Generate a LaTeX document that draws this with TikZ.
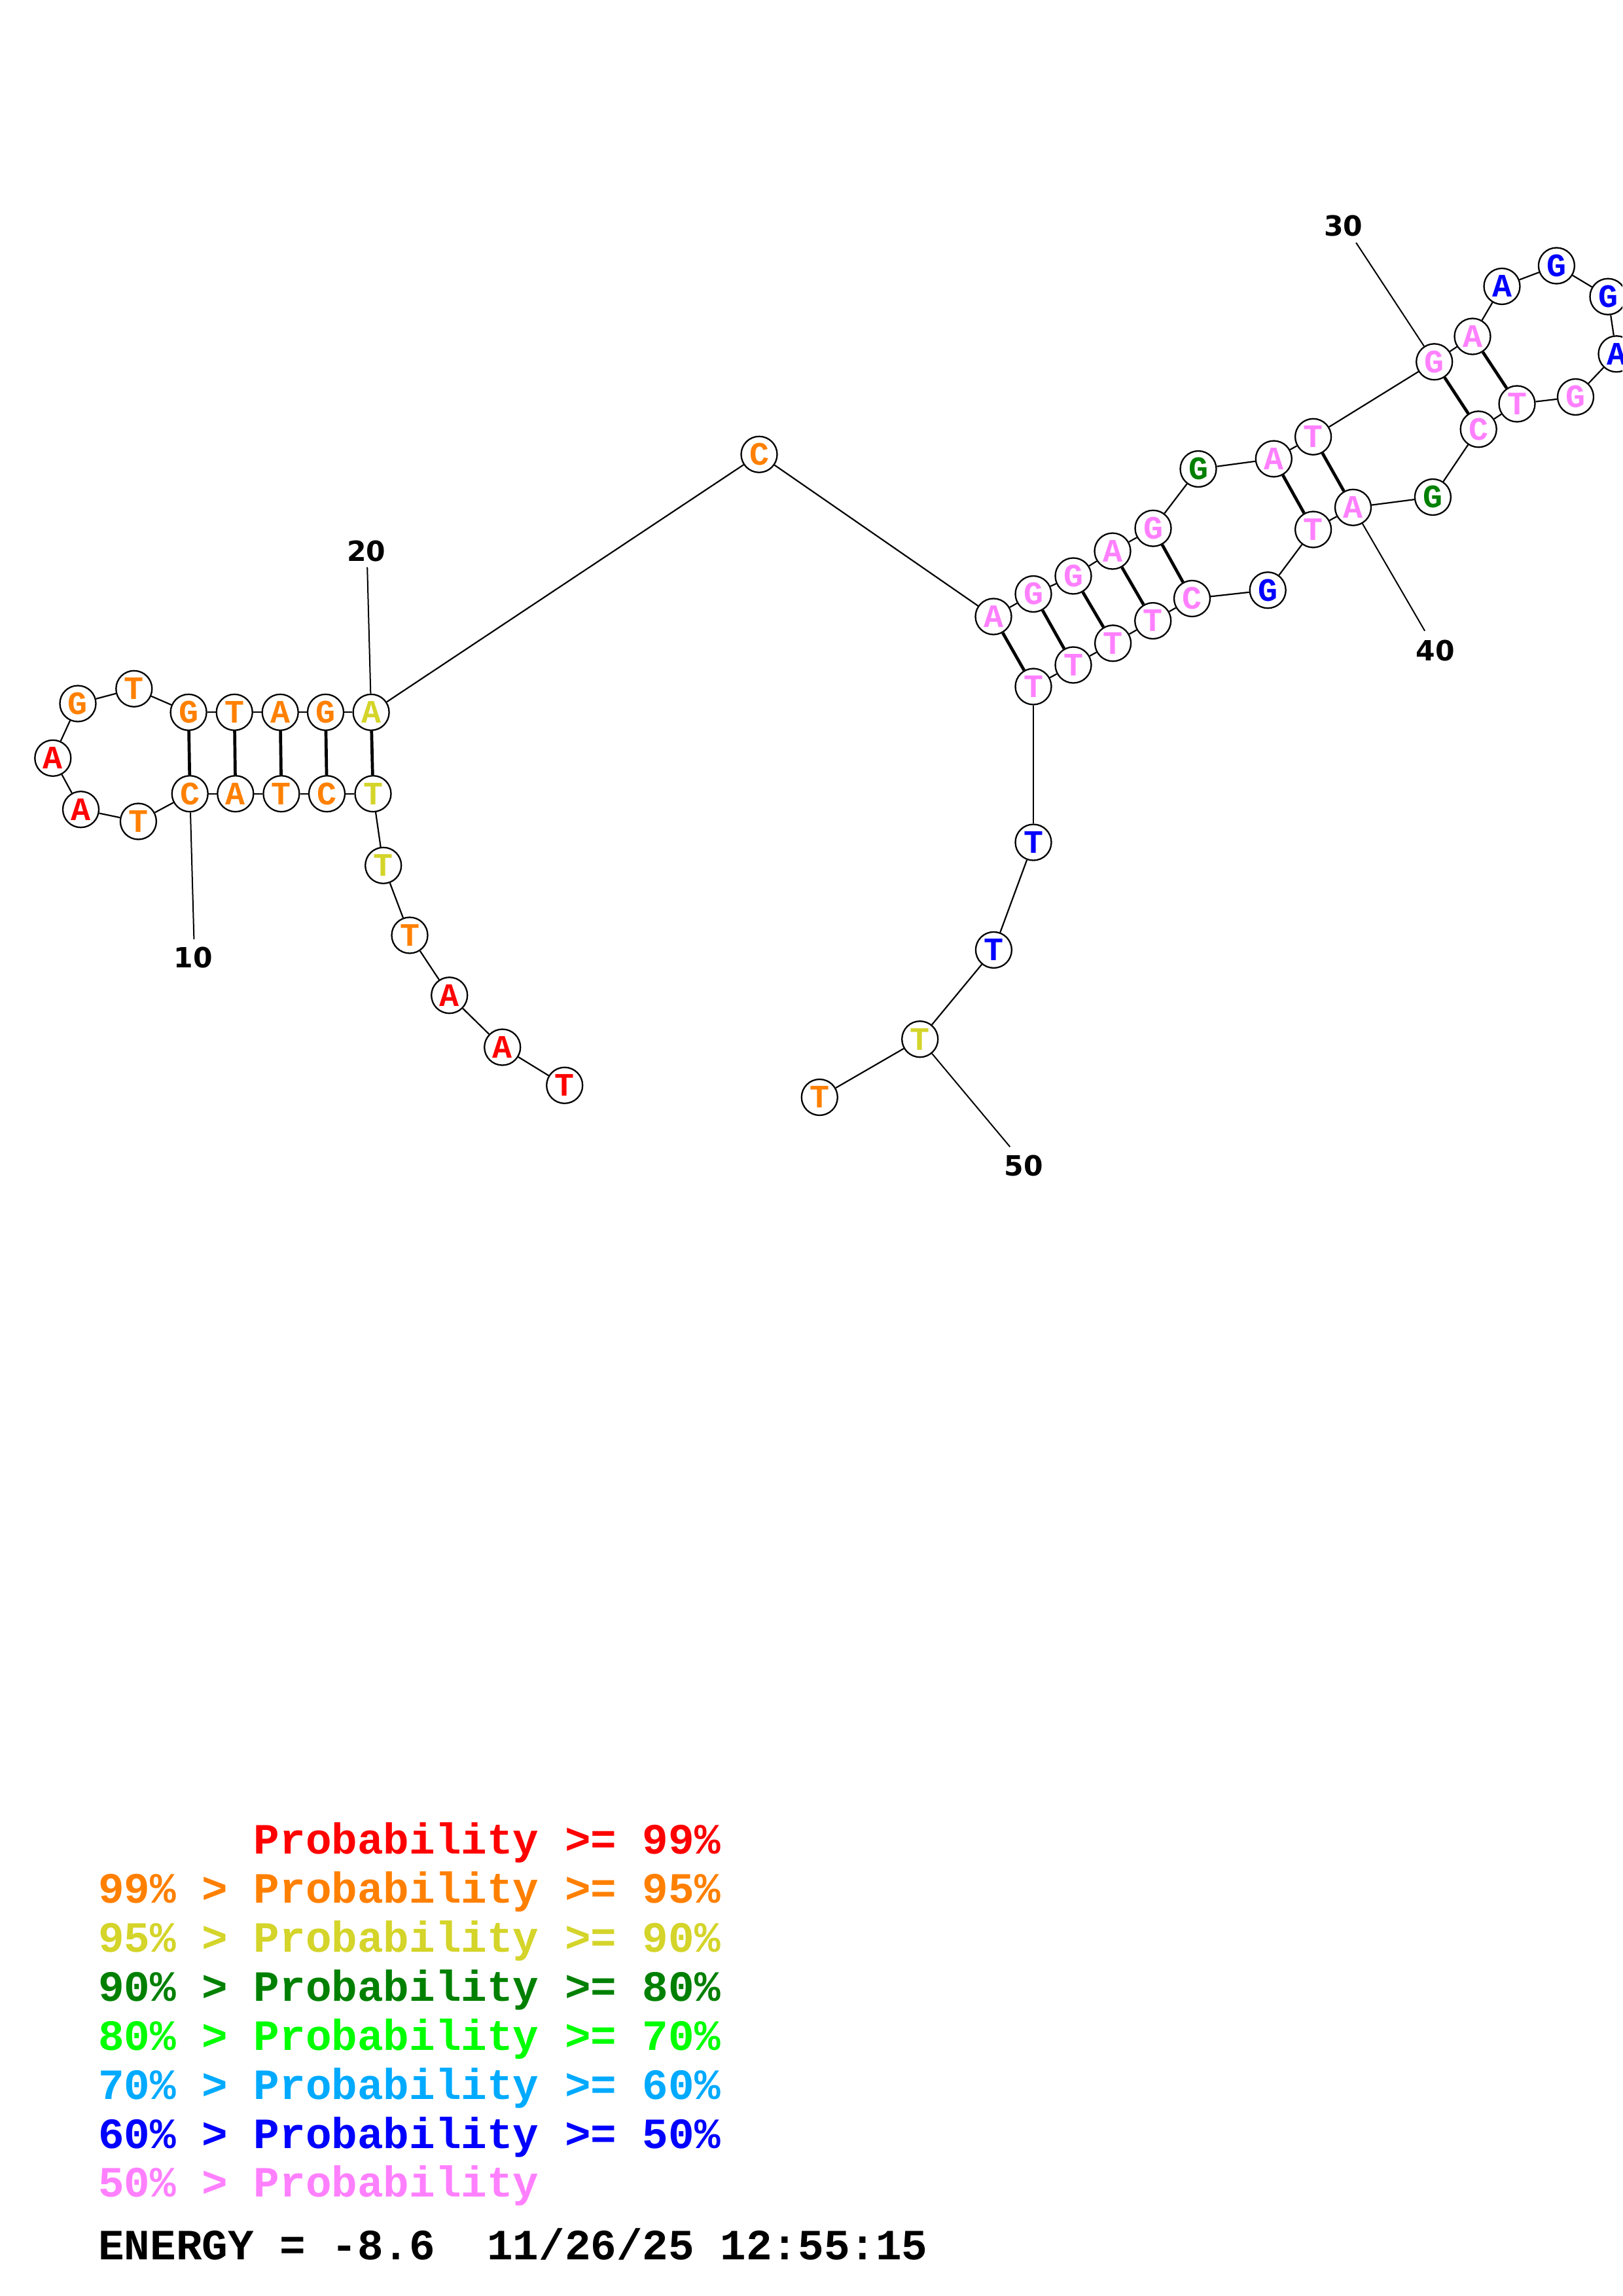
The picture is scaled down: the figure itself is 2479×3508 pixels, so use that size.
\documentclass[tikz,border=0pt]{standalone}
\usepackage{fontspec}
\setmainfont{Liberation Serif}
\newfontfamily\nucfont{Liberation Mono}
\newfontfamily\numfont{DejaVu Sans}
\definecolor{pr}{RGB}{255,0,0}
\definecolor{po}{RGB}{255,128,0}
\definecolor{py}{RGB}{212,212,42}
\definecolor{pg}{RGB}{0,128,0}
\definecolor{plg}{RGB}{0,255,0}
\definecolor{plb}{RGB}{0,170,255}
\definecolor{pbl}{RGB}{0,0,255}
\definecolor{pp}{RGB}{255,128,255}
\tikzset{
  nt/.style={circle, draw=black, line width=2.3pt, fill=white, minimum size=55pt, inner sep=0pt, font=\fontsize{50}{50}\selectfont\nucfont\bfseries},
  bb/.style={line width=2.2pt},
  bp/.style={line width=4.7pt},
  tick/.style={line width=2pt},
  lbl/.style={inner sep=0pt, font=\fontsize{42.5}{45}\selectfont\numfont\bfseries},
  leg/.style={anchor=base west, inner sep=0pt, font=\fontsize{66}{70}\selectfont\nucfont\bfseries}
}
\begin{document}
\begin{tikzpicture}[x=1pt,y=-1pt]
\useasboundingbox (0,0) rectangle (2479,3508);
\clip (0,0) rectangle (2479,3508);
\fill[white] (0,0) rectangle (2479,3508);
% nucleotides
\node[nt, text=pr]  (n1)  at (862.7,1658.3) {T};
\node[nt, text=pr]  (n2)  at (767.7,1600)   {A};
\node[nt, text=pr]  (n3)  at (686.7,1520.7) {A};
\node[nt, text=po]  (n4)  at (626,1429)     {T};
\node[nt, text=py]  (n5)  at (585.7,1322.3) {T};
\node[nt, text=py]  (n6)  at (570,1212.7)   {T};
\node[nt, text=po]  (n7)  at (499.5,1212.7) {C};
\node[nt, text=po]  (n8)  at (429.9,1212.7) {T};
\node[nt, text=po]  (n9)  at (359.8,1212.7) {A};
\node[nt, text=po]  (n10) at (290.2,1212.7) {C};
\node[nt, text=po]  (n11) at (211.4,1255)   {T};
\node[nt, text=pr]  (n12) at (123.5,1236.7) {A};
\node[nt, text=pr]  (n13) at (80.8,1158.3)  {A};
\node[nt, text=po]  (n14) at (119,1075)     {G};
\node[nt, text=po]  (n15) at (204.8,1052.3) {T};
\node[nt, text=po]  (n16) at (288.1,1088.3) {G};
\node[nt, text=po]  (n17) at (358.2,1088.3) {T};
\node[nt, text=po]  (n18) at (428.2,1088.3) {A};
\node[nt, text=po]  (n19) at (497.5,1088.3) {G};
\node[nt, text=py]  (n20) at (567.1,1088.3) {A};
\node[nt, text=po]  (n21) at (1160,694.3)   {C};
\node[nt, text=pp]  (n22) at (1518,942)     {A};
\node[nt, text=pp]  (n23) at (1579,907.5)   {G};
\node[nt, text=pp]  (n24) at (1640,880)     {G};
\node[nt, text=pp]  (n25) at (1700,842)     {A};
\node[nt, text=pp]  (n26) at (1762,807.2)   {G};
\node[nt, text=pg]  (n27) at (1831,716.5)   {G};
\node[nt, text=pp]  (n28) at (1946.3,701)   {A};
\node[nt, text=pp]  (n29) at (2006.6,667.3) {T};
\node[nt, text=pp]  (n30) at (2191.7,552.8) {G};
\node[nt, text=pp]  (n31) at (2250,514)     {A};
\node[nt, text=pbl] (n32) at (2295,437.5)   {A};
\node[nt, text=pbl] (n33) at (2378.4,406)   {G};
\node[nt, text=pbl] (n34) at (2457,453.2)   {G};
\node[nt, text=pbl] (n35) at (2470,540.8)   {A};
\node[nt, text=pp]  (n36) at (2407.5,606.5) {G};
\node[nt, text=pp]  (n37) at (2318,617)     {T};
\node[nt, text=pp]  (n38) at (2259.2,655.8) {C};
\node[nt, text=pg]  (n39) at (2189.4,759.5) {G};
\node[nt, text=pp]  (n40) at (2067.5,775.3) {A};
\node[nt, text=pp]  (n41) at (2006.6,809)   {T};
\node[nt, text=pbl] (n42) at (1937.2,901.7) {G};
\node[nt, text=pp]  (n43) at (1821.5,914.5) {C};
\node[nt, text=pp]  (n44) at (1761.7,948.5) {T};
\node[nt, text=pp]  (n45) at (1700.6,982.8) {T};
\node[nt, text=pp]  (n46) at (1640,1016)    {T};
\node[nt, text=pp]  (n47) at (1579,1049)    {T};
\node[nt, text=pbl] (n48) at (1579,1287)    {T};
\node[nt, text=pbl] (n49) at (1518.4,1451.4) {T};
\node[nt, text=py]  (n50) at (1405.7,1587.7) {T};
\node[nt, text=po]  (n51) at (1252.3,1676.5) {T};
% backbone
\foreach \i [evaluate=\i as \j using int(\i+1)] in {1,...,50}
  \draw[bb] (n\i) -- (n\j);
% base pairs
\foreach \a/\b in {6/20,7/19,8/18,9/17,10/16,22/47,23/46,24/45,25/44,26/43,28/41,29/40,30/38,31/37}
  \draw[bp] (n\a) -- (n\b);
% number labels
\coordinate (e10) at (296.4,1435);
\coordinate (e20) at (561.2,866.7);
\coordinate (e30) at (2072.1,370.8);
\coordinate (e40) at (2177.1,963.9);
\coordinate (e50) at (1543.3,1752.2);
\draw[tick] (n10) -- (e10);
\draw[tick] (n20) -- (e20);
\draw[tick] (n30) -- (e30);
\draw[tick] (n40) -- (e40);
\draw[tick] (n50) -- (e50);
\node[lbl] (l10) at (295.4,1463) {10};
\node[lbl] (l20) at (559.7,841.7) {20};
\node[lbl] (l30) at (2052.8,345.4) {30};
\node[lbl] (l40) at (2193,994) {40};
\node[lbl] (l50) at (1564,1781) {50};
% legend
\node[leg, text=pr]  (g1) at (387.6,2832.6) {Probability >= 99\%};
\node[leg, text=po]  (g2) at (150,2907.5) {99\% > Probability >= 95\%};
\node[leg, text=py]  (g3) at (150,2982.4) {95\% > Probability >= 90\%};
\node[leg, text=pg]  (g4) at (150,3057.3) {90\% > Probability >= 80\%};
\node[leg, text=plg] (g5) at (150,3132.2) {80\% > Probability >= 70\%};
\node[leg, text=plb] (g6) at (150,3207.1) {70\% > Probability >= 60\%};
\node[leg, text=pbl] (g7) at (150,3282) {60\% > Probability >= 50\%};
\node[leg, text=pp]  (g8) at (150,3356.9) {50\% > Probability};
\node[leg, text=black] (en) at (150,3452.5) {ENERGY = -8.6\ \ 11/26/25 12:55:15};
\end{tikzpicture}
\end{document}
